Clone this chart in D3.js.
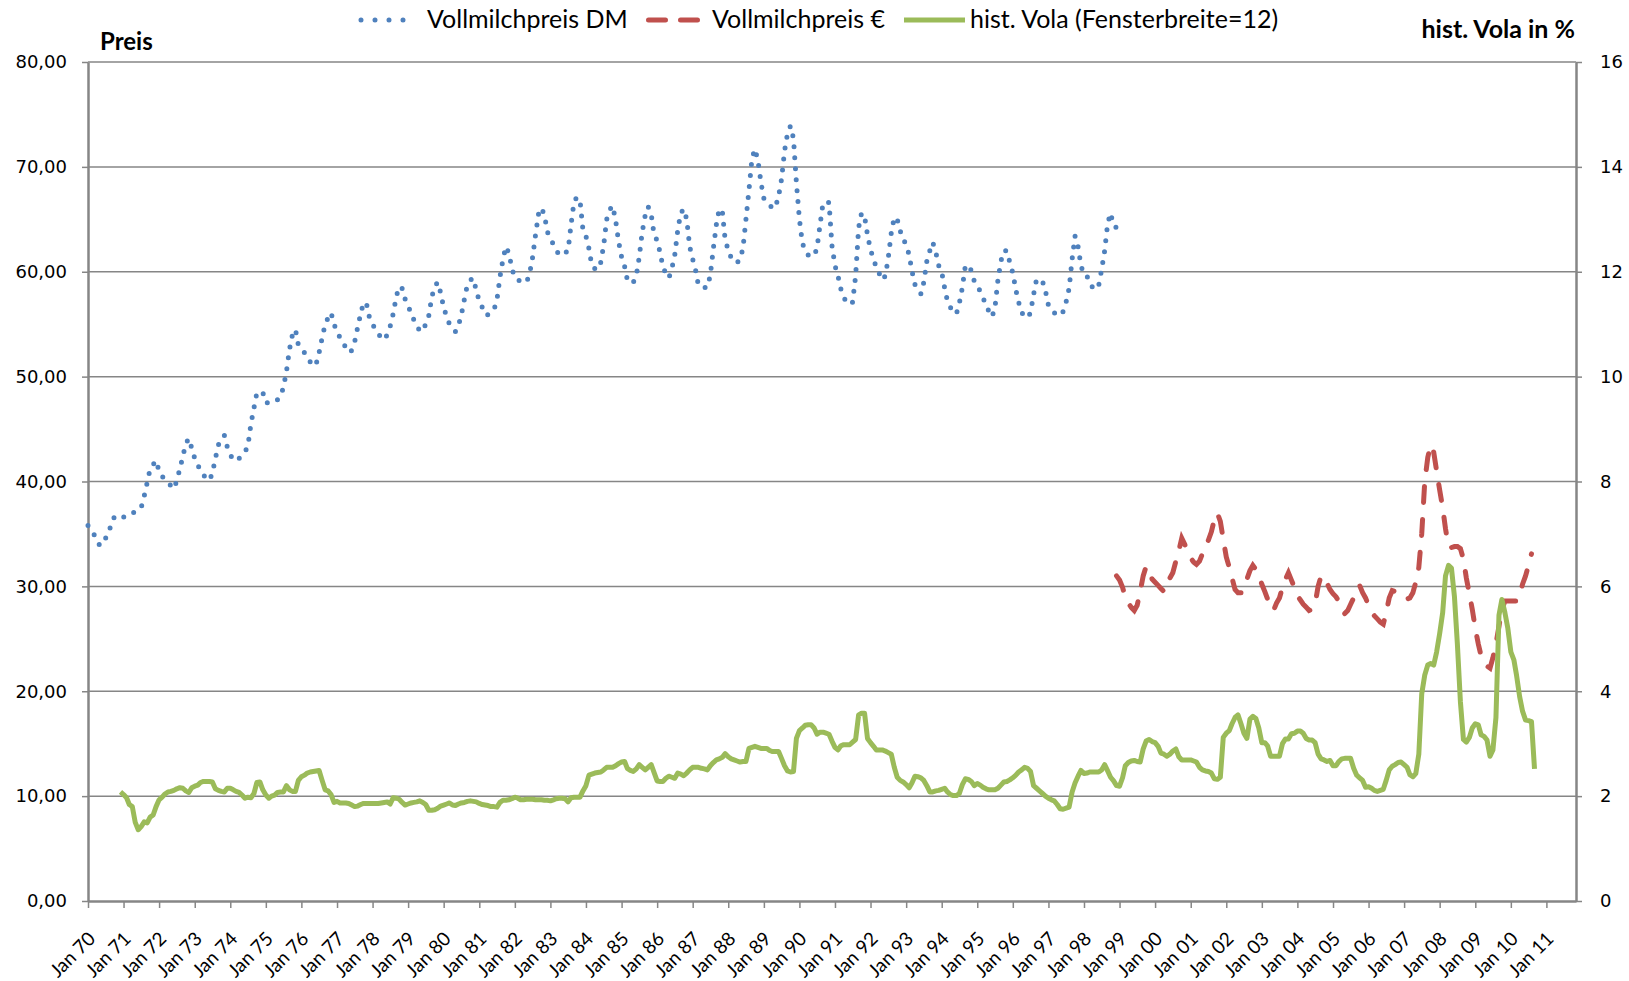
<!DOCTYPE html>
<html>
  <head>
    <meta charset="utf-8" />
    <script src="https://d3js.org/d3.v7.min.js"></script>
    <style>
      body { margin: 0; background: #fff; }
    </style>
  </head>
  <body>
    <div class="container"></div>
  </body>
</html>

<script>
  // monthly values, one row per year
  const dmStart = [1970, 0]; // Jan 70
  const dmPrice = [
    35.8, 35.4, 35.0, 34.5, 33.9, 34.1, 34.6, 35.2, 36.0, 36.7, 36.7, 36.6,
    36.6, 36.7, 36.8, 37.0, 37.1, 37.3, 37.5, 38.6, 39.9, 41.2, 41.6, 42.0,
    41.0, 40.5, 40.2, 39.9, 39.6, 39.3, 40.1, 41.2, 42.4, 43.6, 44.1, 43.2,
    42.2, 41.6, 41.0, 40.6, 40.3, 40.1, 40.8, 42.2, 43.5, 44.0, 44.4, 43.3,
    42.6, 42.0, 42.1, 42.2, 42.4, 42.8, 43.4, 45.5, 47.0, 48.5, 48.5, 48.5,
    47.5, 47.5, 47.5, 47.6, 47.8, 48.1, 49.0, 50.5, 52.6, 54.0, 54.5, 53.0,
    52.6, 52.3, 51.9, 51.4, 51.0, 51.2, 52.3, 53.7, 55.0, 55.6, 56.1, 55.0,
    54.3, 53.7, 53.2, 52.8, 52.3, 52.5, 53.3, 54.7, 56.0, 57.1, 56.9, 55.6,
    55.0, 54.5, 54.1, 53.7, 53.5, 54.0, 54.8, 56.0, 57.6, 58.6, 58.4, 57.4,
    56.7, 56.1, 55.4, 54.9, 54.3, 54.4, 55.0, 55.8, 57.6, 58.6, 59.0, 58.0,
    56.6, 55.7, 55.0, 54.6, 54.3, 54.9, 55.9, 57.4, 58.8, 59.2, 59.4, 58.2,
    57.2, 56.6, 55.9, 55.9, 56.1, 56.4, 57.3, 59.5, 61.2, 62.4, 61.8, 60.3,
    59.5, 59.2, 59.1, 59.0, 59.0, 59.8, 61.3, 63.5, 65.5, 66.1, 65.4, 63.8,
    63.2, 62.6, 62.1, 61.6, 61.6, 61.8, 62.0, 64.5, 66.7, 67.1, 66.8, 64.0,
    63.4, 62.2, 60.6, 60.3, 60.2, 60.9, 62.5, 65.0, 65.9, 66.3, 64.9, 62.9,
    61.4, 60.5, 59.2, 58.9, 59.0, 59.6, 61.4, 63.8, 65.4, 66.2, 65.5, 63.5,
    63.0, 61.8, 60.5, 59.8, 59.4, 60.3, 61.6, 64.0, 65.6, 66.0, 65.0, 62.4,
    61.2, 60.1, 58.7, 58.6, 58.5, 58.5, 59.7, 62.2, 64.5, 66.0, 65.8, 63.0,
    62.1, 61.3, 60.9, 60.9, 61.1, 62.3, 65.0, 67.8, 70.8, 71.7, 70.6, 68.6,
    67.0, 66.7, 66.4, 66.0, 66.2, 67.2, 68.8, 71.5, 73.2, 73.9, 72.7, 68.5,
    65.0, 62.7, 62.1, 61.6, 61.5, 61.5, 62.3, 64.5, 66.6, 66.6, 66.6, 62.5,
    60.6, 59.6, 58.4, 57.6, 57.0, 56.9, 57.1, 59.6, 64.2, 65.6, 65.3, 63.5,
    62.1, 61.2, 60.4, 59.8, 59.2, 59.6, 61.3, 63.7, 65.2, 65.0, 63.9, 63.1,
    62.6, 61.6, 60.1, 58.8, 58.3, 57.9, 59.0, 61.0, 62.0, 62.8, 61.9, 60.6,
    60.0, 58.4, 57.2, 56.6, 56.1, 56.0, 57.0, 58.5, 60.6, 60.6, 60.1, 59.1,
    58.7, 58.1, 57.5, 56.9, 56.2, 55.7, 56.5, 59.2, 61.0, 62.0, 62.0, 60.9,
    59.9, 58.3, 57.1, 56.1, 55.8, 55.6, 56.1, 57.8, 59.3, 59.2, 59.1, 58.2,
    56.8, 56.4, 56.1, 55.8, 55.9, 56.2, 57.1, 58.4, 61.2, 63.4, 62.4, 60.6,
    59.7, 59.6, 58.9, 58.5, 58.3, 58.7, 60.2, 62.0, 64.6, 65.6, 64.4, 64.2
  ];

  const euroStart = [1998, 11]; // Dec 98
  const euroPrice = [
    31.0,
    30.6, 29.9, 29.0, 28.4, 28.0, 27.7, 28.2, 29.5, 31.0, 31.9, 31.3, 30.7,
    30.4, 30.1, 29.8, 29.5, 29.8, 30.8, 31.3, 32.4, 33.4, 34.6, 34.0, 33.2,
    32.7, 32.3, 32.1, 32.4, 33.1, 33.6, 34.4, 35.2, 36.4, 37.0, 36.2, 34.5,
    32.8, 31.8, 30.8, 29.7, 29.4, 29.4, 29.7, 30.7, 31.5, 32.0, 31.6, 31.0,
    30.2, 29.5, 28.8, 28.2, 27.7, 28.4, 28.9, 29.9, 30.7, 31.3, 30.6, 29.9,
    29.1, 28.7, 28.3, 28.0, 27.7, 27.8, 28.3, 30.0, 31.0, 30.9, 30.3, 29.7,
    29.3, 29.0, 28.6, 27.9, 27.4, 27.7, 28.3, 28.9, 29.6, 30.1, 29.4, 28.9,
    28.2, 27.6, 27.2, 26.9, 26.6, 26.4, 27.5, 28.9, 29.6, 29.5, 29.2, 29.0,
    28.8, 28.8, 28.9, 29.4, 30.4, 31.8, 35.0, 40.0, 42.3, 43.5, 42.8, 41.0,
    39.2, 37.5, 35.5, 33.8, 33.7, 33.8, 33.8, 33.6, 32.6, 30.8, 29.3, 27.8,
    26.0, 24.5, 23.4, 22.8, 22.4, 22.2, 23.2, 24.5, 26.2, 27.8, 28.6, 28.6,
    28.6, 28.6, 28.6, 29.2, 30.2, 31.0, 32.0, 33.1
  ];

  const volaStart = [1970, 11]; // Dec 70
  const vola = [
    2.08,
    2.03, 1.97, 1.84, 1.80, 1.50, 1.36, 1.42, 1.51, 1.49, 1.60, 1.64, 1.80,
    1.93, 1.98, 2.04, 2.08, 2.09, 2.11, 2.14, 2.16, 2.15, 2.10, 2.07, 2.16,
    2.19, 2.21, 2.26, 2.28, 2.28, 2.28, 2.27, 2.14, 2.11, 2.09, 2.08, 2.15,
    2.15, 2.12, 2.09, 2.07, 2.02, 1.96, 1.98, 1.97, 2.05, 2.26, 2.27, 2.12,
    2.02, 1.96, 2.00, 2.02, 2.07, 2.08, 2.08, 2.20, 2.12, 2.09, 2.09, 2.30,
    2.37, 2.40, 2.44, 2.46, 2.47, 2.48, 2.49, 2.30, 2.12, 2.10, 2.03, 1.88,
    1.90, 1.87, 1.87, 1.87, 1.86, 1.83, 1.80, 1.81, 1.84, 1.86, 1.86, 1.86,
    1.86, 1.86, 1.86, 1.87, 1.88, 1.89, 1.85, 1.97, 1.96, 1.94, 1.88, 1.83,
    1.85, 1.87, 1.88, 1.89, 1.91, 1.88, 1.84, 1.73, 1.73, 1.74, 1.77, 1.81,
    1.83, 1.85, 1.87, 1.83, 1.82, 1.85, 1.87, 1.88, 1.90, 1.91, 1.90, 1.89,
    1.86, 1.84, 1.83, 1.82, 1.80, 1.80, 1.79, 1.88, 1.92, 1.92, 1.93, 1.95,
    1.98, 1.96, 1.93, 1.93, 1.94, 1.94, 1.94, 1.93, 1.93, 1.93, 1.92, 1.92,
    1.91, 1.93, 1.95, 1.96, 1.96, 1.95, 1.89, 1.97, 1.98, 1.98, 1.98, 2.10,
    2.20, 2.40, 2.42, 2.44, 2.45, 2.46, 2.50, 2.55, 2.55, 2.55, 2.58, 2.62,
    2.65, 2.66, 2.53, 2.49, 2.47, 2.52, 2.60, 2.55, 2.50, 2.55, 2.60, 2.45,
    2.29, 2.28, 2.28, 2.34, 2.38, 2.36, 2.34, 2.44, 2.42, 2.39, 2.44, 2.50,
    2.55, 2.55, 2.55, 2.53, 2.52, 2.50, 2.58, 2.64, 2.69, 2.71, 2.74, 2.81,
    2.75, 2.71, 2.69, 2.67, 2.65, 2.66, 2.66, 2.91, 2.93, 2.95, 2.93, 2.91,
    2.91, 2.91, 2.87, 2.85, 2.85, 2.85, 2.72, 2.58, 2.48, 2.46, 2.47, 3.10,
    3.25, 3.30, 3.35, 3.36, 3.36, 3.30, 3.18, 3.22, 3.22, 3.20, 3.18, 3.05,
    2.93, 2.88, 2.96, 2.98, 2.98, 2.98, 3.03, 3.08, 3.55, 3.58, 3.58, 3.10,
    3.02, 2.95, 2.88, 2.88, 2.88, 2.86, 2.83, 2.80, 2.55, 2.36, 2.30, 2.27,
    2.22, 2.16, 2.25, 2.38, 2.37, 2.35, 2.30, 2.20, 2.08, 2.08, 2.10, 2.11,
    2.13, 2.15, 2.08, 2.03, 2.01, 2.01, 2.05, 2.22, 2.33, 2.32, 2.28, 2.20,
    2.24, 2.21, 2.17, 2.14, 2.12, 2.12, 2.12, 2.15, 2.21, 2.27, 2.28, 2.31,
    2.35, 2.40, 2.46, 2.50, 2.55, 2.53, 2.47, 2.20, 2.15, 2.10, 2.05, 2.00,
    1.96, 1.93, 1.91, 1.84, 1.76, 1.75, 1.77, 1.79, 2.08, 2.25, 2.38, 2.49,
    2.43, 2.44, 2.46, 2.46, 2.46, 2.46, 2.50, 2.60, 2.48, 2.36, 2.29, 2.20,
    2.19, 2.35, 2.58, 2.64, 2.67, 2.68, 2.66, 2.65, 2.90, 3.05, 3.08, 3.04,
    3.02, 2.95, 2.82, 2.80, 2.76, 2.80, 2.86, 2.90, 2.75, 2.69, 2.69, 2.69,
    2.69, 2.67, 2.65, 2.55, 2.50, 2.48, 2.47, 2.44, 2.33, 2.32, 2.36, 3.12,
    3.20, 3.25, 3.38, 3.50, 3.55, 3.38, 3.20, 3.10, 3.47, 3.52, 3.48, 3.30,
    3.02, 3.02, 2.96, 2.76, 2.76, 2.76, 2.76, 3.00, 3.09, 3.09, 3.19, 3.20,
    3.24, 3.24, 3.20, 3.10, 3.07, 3.07, 3.02, 2.80, 2.71, 2.69, 2.66, 2.68,
    2.58, 2.58, 2.66, 2.71, 2.72, 2.72, 2.72, 2.53, 2.40, 2.35, 2.30, 2.17,
    2.18, 2.15, 2.11, 2.09, 2.11, 2.13, 2.30, 2.50, 2.57, 2.60, 2.64, 2.65,
    2.60, 2.55, 2.41, 2.37, 2.43, 2.80, 3.95, 4.31, 4.50, 4.53, 4.50, 4.75,
    5.10, 5.50, 6.20, 6.40, 6.35, 5.80, 4.90, 3.80, 3.08, 3.03, 3.12, 3.30,
    3.38, 3.36, 3.17, 3.14, 3.07, 2.76, 2.88, 3.50, 5.45, 5.75, 5.50, 5.20,
    4.75, 4.60, 4.30, 3.90, 3.62, 3.45, 3.44, 3.42, 2.52
  ];

  const priceTicks = [0, 10, 20, 30, 40, 50, 60, 70, 80];
  const volaTicks = [0, 2, 4, 6, 8, 10, 12, 14, 16];
  const tickYears = d3.range(1970, 2012);

  const legendItems = [
    { label: "Vollmilchpreis DM", color: "#4f81bd", dash: "0 14", x0: 361, x1: 417, tx: 427 },
    { label: "Vollmilchpreis €", color: "#c0504d", dash: "17 15", x0: 648.5, x1: 697.5, tx: 712 },
    { label: "hist. Vola (Fensterbreite=12)", color: "#9bbb59", dash: null, x0: 904, x1: 965, tx: 970 }
  ];

  const W = 1629, H = 981;
  const plot = { left: 88, right: 1576, top: 62, bottom: 901 };
  const grey = "#868686";
  const calibri = "Lato, 'Liberation Sans', sans-serif";

  const de = d3.formatLocale({ decimal: ",", thousands: ".", grouping: [3], currency: ["", " €"] });
  const fmtPrice = de.format(".2f");

  function toPoints(start, values) {
    return values.map((v, i) => ({ date: new Date(start[0], start[1] + i, 1), v }));
  }

  const x = d3.scaleTime()
    .domain([new Date(1970, 0, 1), new Date(2011, 10, 1)])
    .range([plot.left, plot.right]);
  const y = d3.scaleLinear().domain([0, 80]).range([plot.bottom, plot.top]);
  const yVola = d3.scaleLinear().domain([0, 16]).range([plot.bottom, plot.top]);

  const svg = d3.select(".container").append("svg")
    .attr("width", W).attr("height", H)
    .attr("viewBox", [0, 0, W, H]);

  // gridlines
  svg.append("g")
    .selectAll("line")
    .data(priceTicks.filter((d) => d > 0))
    .join("line")
    .attr("x1", plot.left).attr("x2", plot.right)
    .attr("y1", (d) => y(d)).attr("y2", (d) => y(d))
    .attr("stroke", grey).attr("stroke-width", 1.5);

  // left axis
  const gLeft = svg.append("g")
    .attr("transform", `translate(${plot.left},0)`)
    .call(d3.axisLeft(y).tickValues(priceTicks).tickFormat(fmtPrice).tickSize(6).tickSizeOuter(0).tickPadding(15));

  // right axis
  const gRight = svg.append("g")
    .attr("transform", `translate(${plot.right},0)`)
    .call(d3.axisRight(yVola).tickValues(volaTicks).tickSize(6).tickSizeOuter(0).tickPadding(18));

  for (const g of [gLeft, gRight]) {
    g.select(".domain").attr("stroke", grey).attr("stroke-width", 2.5);
    g.selectAll(".tick line").attr("stroke", grey).attr("stroke-width", 1.5);
    g.selectAll(".tick text")
      .attr("font-family", "'DejaVu Sans', Verdana, sans-serif")
      .attr("font-size", 18)
      .attr("fill", "#000");
  }

  // bottom axis
  const gBottom = svg.append("g")
    .attr("transform", `translate(0,${plot.bottom})`)
    .call(d3.axisBottom(x)
      .tickValues(tickYears.map((yr) => new Date(yr, 0, 1)))
      .tickFormat(d3.timeFormat("Jan %y"))
      .tickSize(7).tickSizeOuter(0));
  gBottom.select(".domain").attr("stroke", grey).attr("stroke-width", 2.5);
  gBottom.selectAll(".tick line").attr("stroke", grey).attr("stroke-width", 1.5);
  gBottom.selectAll(".tick text")
    .attr("x", 0).attr("y", 0).attr("dy", 0)
    .attr("text-anchor", "end")
    .attr("transform", "translate(8,39) rotate(-45)")
    .attr("font-family", calibri)
    .attr("font-size", 19)
    .attr("fill", "#000");

  // series
  const linePrice = d3.line().x((d) => x(d.date)).y((d) => y(d.v));
  const lineVola = d3.line().x((d) => x(d.date)).y((d) => yVola(d.v));

  svg.append("path")
    .datum(toPoints(dmStart, dmPrice))
    .attr("d", linePrice)
    .attr("fill", "none")
    .attr("stroke", "#4f81bd")
    .attr("stroke-width", 5)
    .attr("stroke-linecap", "round")
    .attr("stroke-dasharray", "0 11");

  svg.append("path")
    .datum(toPoints(euroStart, euroPrice))
    .attr("d", linePrice)
    .attr("fill", "none")
    .attr("stroke", "#c0504d")
    .attr("stroke-width", 5)
    .attr("stroke-linecap", "round")
    .attr("stroke-dasharray", "16 17");

  svg.append("path")
    .datum(toPoints(volaStart, vola))
    .attr("d", lineVola)
    .attr("fill", "none")
    .attr("stroke", "#9bbb59")
    .attr("stroke-width", 5)
    .attr("stroke-linejoin", "round");

  // axis titles
  svg.append("text")
    .attr("x", 100).attr("y", 50)
    .attr("font-family", calibri).attr("font-weight", "bold").attr("font-size", 24)
    .text("Preis");
  svg.append("text")
    .attr("x", 1575).attr("y", 38)
    .attr("text-anchor", "end")
    .attr("font-family", calibri).attr("font-weight", "bold").attr("font-size", 25)
    .text("hist. Vola in %");

  // legend
  const legend = svg.append("g").selectAll("g").data(legendItems).join("g");
  legend.append("line")
    .attr("x1", (d) => d.x0).attr("x2", (d) => d.x1)
    .attr("y1", 20).attr("y2", 20)
    .attr("stroke", (d) => d.color)
    .attr("stroke-width", 5)
    .attr("stroke-linecap", (d) => (d.dash ? "round" : "butt"))
    .attr("stroke-dasharray", (d) => d.dash);
  legend.append("text")
    .attr("x", (d) => d.tx).attr("y", 28)
    .attr("font-family", calibri).attr("font-size", 25)
    .text((d) => d.label);
</script>
